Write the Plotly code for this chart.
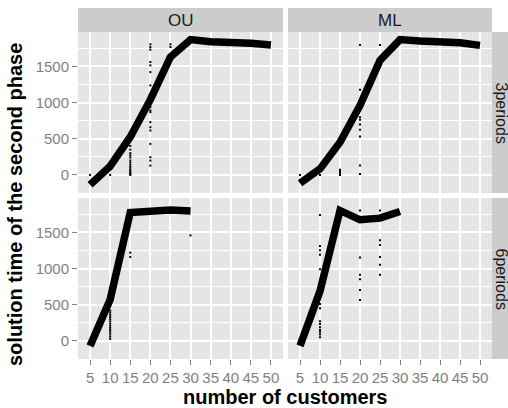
import plotly.graph_objects as go

# ---- data ----
customers = [5, 10, 15, 20, 25, 30, 35, 40, 45, 50]
ou_3p_line = [-135, 120, 525, 1040, 1630, 1870, 1840, 1835, 1820, 1795]
ml_3p_line = [-116, 83, 451, 960, 1583, 1870, 1850, 1840, 1825, 1790]
customers_6p = [5, 10, 15, 20, 25, 30]
ou_6p_line = [-69, 573, 1775, 1805, 1810, 1795]
ml_6p_line = [-69, 688, 1803, 1674, 1697, 1789]

ou_3p_pts_x = [5, 10] + [15] * 15 + [20] * 17 + [25, 25]
ou_3p_pts_y = [0, 0,
               400, 350, 300, 270, 240, 200, 170, 140, 110, 80, 60, 40, 20, 10, 0,
               1805, 1767, 1731, 1560, 1514, 1421, 1237, 936, 891, 867, 729, 659, 614, 429, 244, 198, 129,
               1805, 1767]
ml_3p_pts_x = [5, 10] + [15] * 5 + [20] * 9 + [25]
ml_3p_pts_y = [0, 0,
               70, 50, 30, 10, 0,
               1795, 1177, 798, 762, 697, 623, 530, 129, 14,
               1795]
ou_6p_pts_x = [10] * 14 + [15, 15, 30]
ou_6p_pts_y = [418, 390, 360, 330, 300, 270, 240, 210, 180, 150, 120, 90, 60, 28,
               1220, 1161, 1459]
ml_6p_pts_x = [10] * 14 + [20] * 6 + [25] * 6
ml_6p_pts_y = [1739, 1313, 1252, 1189, 991, 509, 450, 271, 234, 189, 151, 120, 88, 51,
               1803, 1152, 914, 853, 702, 564,
               1803, 1390, 1327, 1161, 1051, 914]

col_labels = ["OU", "ML"]
row_labels = ["3periods", "6periods"]
x_ticks = [5, 10, 15, 20, 25, 30, 35, 40, 45, 50]
y_ticks = [0, 500, 1000, 1500]

W, H = 508, 408
def px_x(p): return p / W
def px_y(p): return 1 - p / H

col_dom = [(px_x(78), px_x(283)), (px_x(288), px_x(492))]
row_dom = [(px_y(193), px_y(32)), (px_y(359), px_y(198))]

FONT = "Liberation Sans, Arial, Helvetica, sans-serif"
fig = go.Figure()
panels = [
    (0, 0, customers, ou_3p_line, ou_3p_pts_x, ou_3p_pts_y),
    (0, 1, customers, ml_3p_line, ml_3p_pts_x, ml_3p_pts_y),
    (1, 0, customers_6p, ou_6p_line, ou_6p_pts_x, ou_6p_pts_y),
    (1, 1, customers_6p, ml_6p_line, ml_6p_pts_x, ml_6p_pts_y),
]
grey50 = "#7F7F7F"
for i, (r, c, lx, ly, px, py) in enumerate(panels):
    n = i + 1
    xa = "x" if n == 1 else f"x{n}"
    ya = "y" if n == 1 else f"y{n}"
    fig.add_trace(go.Scatter(x=px, y=py, mode="markers", xaxis=xa, yaxis=ya,
                             marker=dict(symbol="square", size=2, color="black"),
                             showlegend=False, hoverinfo="skip"))
    fig.add_trace(go.Scatter(x=lx, y=ly, mode="lines", xaxis=xa, yaxis=ya,
                             line=dict(color="black", width=7.5),
                             showlegend=False, hoverinfo="skip"))
    xkey = "xaxis" if n == 1 else f"xaxis{n}"
    ykey = "yaxis" if n == 1 else f"yaxis{n}"
    fig.layout[xkey] = dict(
        domain=list(col_dom[c]), anchor=ya, range=[2, 53],
        tickvals=x_ticks, ticktext=[str(t) for t in x_ticks],
        showticklabels=(r == 1), ticks="outside" if r == 1 else "",
        ticklen=5, tickcolor=grey50, tickwidth=1,
        tickfont=dict(family=FONT, size=15, color=grey50),
        showgrid=True, gridcolor="white", gridwidth=1.6,
        zeroline=False, showline=False, fixedrange=True,
    )
    fig.layout[ykey] = dict(
        domain=list(row_dom[r]), anchor=xa, range=[-250, 1975],
        tickvals=y_ticks, ticktext=[str(t) for t in y_ticks],
        showticklabels=(c == 0), ticks="outside" if c == 0 else "",
        ticklen=5, tickcolor=grey50, tickwidth=1,
        tickfont=dict(family=FONT, size=15, color=grey50),
        showgrid=True, gridcolor="white", gridwidth=1.6,
        minor=dict(tickvals=[250, 750, 1250, 1750], showgrid=True,
                   gridcolor="white", gridwidth=0.9, ticks=""),
        zeroline=False, showline=False, fixedrange=True,
    )

shapes = []
annotations = []
for r in range(2):
    for c in range(2):
        shapes.append(dict(type="rect", xref="paper", yref="paper", layer="below",
                           x0=col_dom[c][0], x1=col_dom[c][1],
                           y0=row_dom[r][0], y1=row_dom[r][1],
                           fillcolor="#E5E5E5", line=dict(width=0)))
for c in range(2):
    shapes.append(dict(type="rect", xref="paper", yref="paper", layer="below",
                       x0=col_dom[c][0], x1=col_dom[c][1],
                       y0=px_y(32), y1=px_y(8),
                       fillcolor="#CCCCCC", line=dict(width=0)))
    annotations.append(dict(xref="paper", yref="paper",
                            x=(col_dom[c][0] + col_dom[c][1]) / 2, y=px_y(20),
                            text=col_labels[c], showarrow=False,
                            font=dict(family=FONT, size=17, color="#1A1A1A"),
                            xanchor="center", yanchor="middle"))
for r in range(2):
    shapes.append(dict(type="rect", xref="paper", yref="paper", layer="below",
                       x0=px_x(492), x1=1.0,
                       y0=row_dom[r][0], y1=row_dom[r][1],
                       fillcolor="#CCCCCC", line=dict(width=0)))
    annotations.append(dict(xref="paper", yref="paper",
                            x=px_x(501), y=(row_dom[r][0] + row_dom[r][1]) / 2,
                            text=row_labels[r], showarrow=False, textangle=90,
                            font=dict(family=FONT, size=16, color="#1A1A1A"),
                            xanchor="center", yanchor="middle"))
annotations.append(dict(xref="paper", yref="paper", x=px_x(285), y=px_y(397),
                        text="<b>number of customers</b>", showarrow=False,
                        font=dict(family=FONT, size=20, color="black"),
                        xanchor="center", yanchor="middle"))
annotations.append(dict(xref="paper", yref="paper", x=px_x(15), y=px_y(205),
                        text="<b>solution time of the second phase</b>", showarrow=False,
                        textangle=-90,
                        font=dict(family=FONT, size=20, color="black"),
                        xanchor="center", yanchor="middle"))

fig.update_layout(width=W, height=H, margin=dict(l=0, r=0, t=0, b=0),
                  paper_bgcolor="white", plot_bgcolor="rgba(0,0,0,0)",
                  shapes=shapes, annotations=annotations, showlegend=False)
fig.write_html("out.html", config={"displayModeBar": False},
               post_script="document.body.style.margin='0px';document.body.style.padding='0px';document.body.style.overflow='hidden';")
